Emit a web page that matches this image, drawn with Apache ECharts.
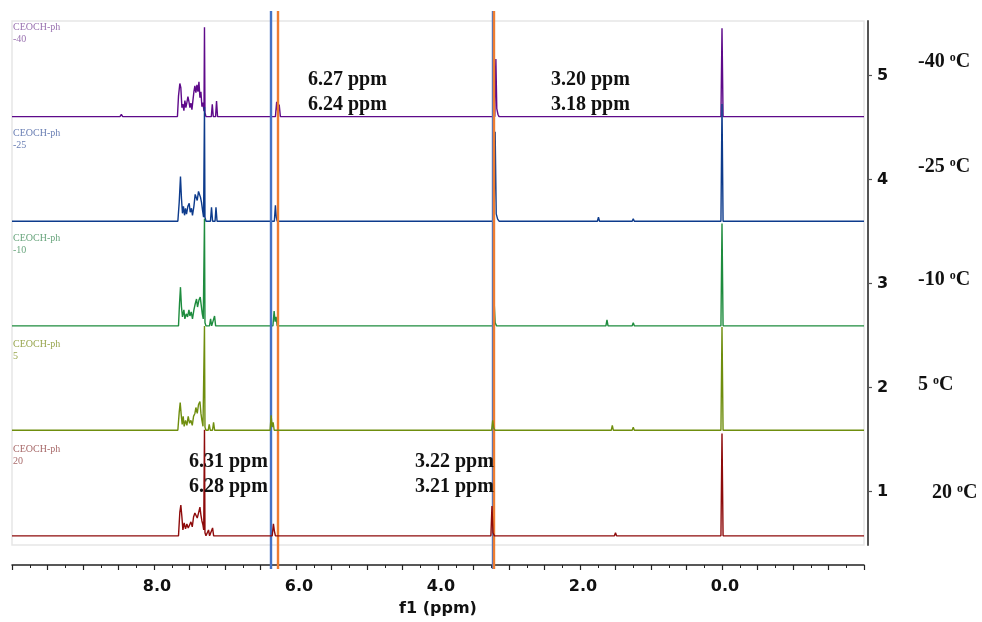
<!DOCTYPE html>
<html><head><meta charset="utf-8">
<script src="https://cdn.jsdelivr.net/npm/echarts@6/dist/echarts.min.js"></script>
<style>html,body{margin:0;padding:0;background:#fff}#c{width:982px;height:622px}</style>
</head><body><div id="c"></div>
<script>
// ---- data (ppm, intensity above each trace's baseline, in axis units) ----
const TEMPS = ['-40', '-25', '-10', '5', '20'];
const SAMPLE = 'CEOCH-ph';
const OFFSETS = [4.606, 3.60, 2.594, 1.59, 0.575];
const COLORS = ['#5e0a8a', '#0d3b8c', '#1e8c3e', '#6f8e0e', '#8e0b0b'];
const LABEL_COLORS = ['#9a72b0', '#6a7fb4', '#6aa67e', '#98a64e', '#a86a6a'];

const S_M40 = [
[10,0],[8.48,0],[8.46,0.02],[8.44,0],
[7.67,0],[7.655,0.197],[7.636,0.318],[7.622,0.277],[7.607,0.086],[7.593,0.12],[7.579,0.057],[7.565,0.153],[7.551,0.086],[7.537,0.134],[7.522,0.191],[7.508,0.143],[7.494,0.086],[7.48,0.13],[7.466,0.067],[7.452,0.153],[7.438,0.239],[7.424,0.296],[7.41,0.229],[7.395,0.305],[7.381,0.239],[7.367,0.334],[7.353,0.181],[7.339,0.239],[7.325,0.095],[7.311,0.134],[7.296,0.053],[7.289,0.859],[7.282,0.038],[7.268,0],
[7.193,0],[7.179,0.117],[7.165,0],[7.133,0],[7.119,0.149],[7.105,0],
[6.29,0],[6.272,0.143],[6.255,0.03],[6.237,0.115],[6.22,0],
[3.20,0],[3.185,0.553],[3.172,0.076],[3.155,0.02],[3.14,0],
[1.26,0],[1.243,0.014],[1.23,0],[0.88,0],[0.866,0.01],[0.85,0],
[0.015,0],[0.0,0.85],[-0.015,0],[-2,0]
];
const S_M25 = [
[10,0],[8.36,0],[8.35,0.012],[8.34,0],
[7.664,0],[7.645,0.181],[7.627,0.429],[7.613,0.219],[7.599,0.076],[7.585,0.143],[7.57,0.057],[7.556,0.124],[7.542,0.067],[7.523,0.143],[7.504,0.172],[7.49,0.086],[7.472,0.124],[7.458,0.057],[7.438,0.143],[7.42,0.258],[7.405,0.277],[7.391,0.2],[7.373,0.286],[7.359,0.305],[7.345,0.229],[7.331,0.181],[7.316,0.105],[7.302,0.038],[7.289,1.097],[7.282,0.038],[7.268,0],
[7.205,0],[7.19,0.134],[7.175,0],[7.14,0],[7.127,0.134],[7.112,0],
[6.305,0],[6.29,0.153],[6.278,0.04],[6.265,0],
[3.21,0],[3.195,0.859],[3.18,0.07],[3.16,0.02],[3.14,0],
[1.755,0],[1.74,0.038],[1.725,0],[1.265,0],[1.25,0.024],[1.235,0],[0.885,0],[0.87,0.019],[0.855,0],
[0.015,0],[0.0,1.126],[-0.015,0],[-2,0]
];
const S_M10 = [
[10,0],
[7.655,0],[7.641,0.21],[7.627,0.372],[7.613,0.181],[7.599,0.086],[7.579,0.153],[7.565,0.067],[7.546,0.115],[7.527,0.086],[7.508,0.153],[7.494,0.095],[7.476,0.134],[7.458,0.067],[7.438,0.153],[7.42,0.21],[7.401,0.258],[7.387,0.181],[7.367,0.248],[7.349,0.277],[7.335,0.2],[7.32,0.115],[7.306,0.067],[7.289,1.03],[7.282,0.029],[7.268,0],
[7.218,0],[7.203,0.067],[7.188,0],[7.162,0],[7.147,0.095],[7.132,0],
[6.325,0],[6.308,0.143],[6.294,0.04],[6.28,0.086],[6.265,0],
[3.225,0],[3.21,0.239],[3.195,0.03],[3.175,0],
[1.635,0],[1.62,0.057],[1.605,0],[1.265,0],[1.25,0.029],[1.235,0],
[0.015,0],[0.0,0.983],[-0.015,0],[-2,0]
];
const S_P5 = [
[10,0],
[7.664,0],[7.645,0.172],[7.631,0.267],[7.617,0.153],[7.603,0.057],[7.589,0.134],[7.575,0.038],[7.556,0.095],[7.537,0.048],[7.518,0.134],[7.499,0.067],[7.48,0.095],[7.461,0.048],[7.443,0.134],[7.424,0.162],[7.41,0.219],[7.391,0.162],[7.373,0.248],[7.353,0.277],[7.339,0.162],[7.325,0.095],[7.31,0.038],[7.289,1.002],[7.282,0.03],[7.268,0],
[7.237,0],[7.222,0.057],[7.207,0],[7.176,0],[7.161,0.076],[7.146,0],
[6.365,0],[6.35,0.143],[6.336,0.03],[6.322,0.076],[6.307,0],
[3.245,0],[3.23,0.095],[3.215,0.02],[3.195,0],
[1.56,0],[1.545,0.048],[1.53,0],[1.265,0],[1.25,0.029],[1.235,0],[0.885,0],[0.87,0.014],[0.855,0],
[0.015,0],[0.0,0.992],[-0.015,0],[-2,0]
];
const S_P20 = [
[10,0],
[7.655,0],[7.636,0.229],[7.622,0.296],[7.607,0.181],[7.593,0.057],[7.575,0.124],[7.556,0.067],[7.537,0.115],[7.518,0.076],[7.499,0.105],[7.48,0.134],[7.461,0.086],[7.443,0.181],[7.424,0.219],[7.405,0.229],[7.391,0.172],[7.373,0.219],[7.353,0.277],[7.339,0.2],[7.325,0.143],[7.311,0.105],[7.30,0.057],[7.289,1.021],[7.282,0.03],[7.268,0],
[7.247,0],[7.232,0.057],[7.217,0],[7.19,0],[7.175,0.076],[7.16,0],
[6.335,0],[6.318,0.115],[6.305,0.048],[6.29,0],
[3.255,0],[3.24,0.286],[3.225,0.03],[3.205,0],
[1.515,0],[1.50,0.029],[1.485,0],[1.265,0],[1.25,0.019],[1.235,0],[0.885,0],[0.87,0.01],[0.855,0],
[0.015,0],[0.0,0.983],[-0.015,0],[-2,0]
];
const SPECTRA = [S_M40, S_M25, S_M10, S_P5, S_P20];

const X_MIN = -2, X_MAX = 10;
const X_LABELS = [8, 6, 4, 2, 0];
const Y_TICKS = [1, 2, 3, 4, 5];
const REF_BLUE = [6.35, 3.234];
const REF_ORANGE = [6.257, 3.206];
const ANNOTS = [['6.27 ppm', '6.24 ppm'], ['3.20 ppm', '3.18 ppm'], ['6.31 ppm', '6.28 ppm'], ['3.22 ppm', '3.21 ppm']];

// ---- chart ----
const chart = echarts.init(document.getElementById('c'), null, {renderer: 'canvas'});
const series = SPECTRA.map((sp, i) => ({
  type: 'line', xAxisIndex: 0, yAxisIndex: 0,
  data: sp.map(p => [p[0], OFFSETS[i] + p[1]]),
  showSymbol: false, symbol: 'none', clip: true,
  lineStyle: {color: COLORS[i], width: 1.4}, z: 2 + i
}));
series.push({
  type: 'line', xAxisIndex: 1, yAxisIndex: 1, data: [], z: 10,
  markLine: {
    silent: true, symbol: ['none', 'none'], label: {show: false},
    lineStyle: {type: 'solid', width: 2.4},
    data: REF_BLUE.map(v => ({xAxis: v, lineStyle: {color: '#4472C4'}}))
      .concat(REF_ORANGE.map(v => ({xAxis: v, lineStyle: {color: '#ED7D31'}})))
  }
});

const serif = '"Liberation Serif", "Times New Roman", serif';
const annotPos = [[308, 67], [551, 67], [189, 449], [415, 449]];
const tempPos = [[918, 62], [918, 167], [918, 280], [918, 385], [932, 493]];
const graphics = [];
ANNOTS.forEach((a, i) => graphics.push({
  type: 'text', left: annotPos[i][0], top: annotPos[i][1], z: 20,
  style: {text: a.join('\n'), font: 'bold 20px ' + serif, lineHeight: 25, fill: '#111'}
}));
TEMPS.forEach((t, i) => {
  graphics.push({
    type: 'text', x: tempPos[i][0], y: tempPos[i][1], z: 20,
    style: {
      text: '{t|' + t + ' }{s|o}{t|C}', verticalAlign: 'middle',
      rich: {t: {font: 'bold 20px ' + serif, fill: '#111'}, s: {font: 'bold 12px ' + serif, fill: '#111', verticalAlign: 'top'}}
    }
  });
  const baseTop = [21, 127, 232, 338, 443][i];
  graphics.push({
    type: 'text', x: 13, y: baseTop, z: 20,
    style: {text: SAMPLE + '\n' + t, font: '10px ' + serif, lineHeight: 12, fill: LABEL_COLORS[i]}
  });
});

chart.setOption({
  animation: false,
  backgroundColor: '#fff',
  grid: [
    {left: 12, right: 118, top: 21, bottom: 73, show: true, borderColor: '#e6e6e6', borderWidth: 1.5, backgroundColor: 'transparent'},
    {left: 12, right: 118, top: 11, bottom: 53}
  ],
  xAxis: [{
    type: 'value', gridIndex: 0, inverse: true, min: X_MIN, max: X_MAX, interval: 0.5, offset: 20,
    axisLine: {show: true, onZero: false, lineStyle: {color: '#222', width: 1.5}},
    axisTick: {show: true, length: 5, lineStyle: {color: '#222', width: 1.2}},
    minorTick: {show: true, splitNumber: 2, length: 3, lineStyle: {color: '#222', width: 1}},
    splitLine: {show: false},
    axisLabel: {
      margin: 14, padding: [0, 0, 0, 6], fontSize: 16, fontWeight: 'bold', fontFamily: '"DejaVu Sans", Verdana, sans-serif', color: '#111',
      formatter: v => X_LABELS.some(l => Math.abs(l - v) < 1e-9) ? v.toFixed(1) : ''
    },
    name: 'f1 (ppm)', nameLocation: 'middle', nameGap: 36,
    nameTextStyle: {fontSize: 16, fontWeight: 'bold', fontFamily: '"DejaVu Sans", Verdana, sans-serif', color: '#111'}
  }, {
    type: 'value', gridIndex: 1, inverse: true, min: X_MIN, max: X_MAX, show: false
  }],
  yAxis: [{
    type: 'value', gridIndex: 0, position: 'right', offset: 4, min: 0.487, max: 5.525,
    axisLine: {show: true, onZero: false, lineStyle: {color: '#555', width: 2}},
    axisTick: {show: true, length: 4, customValues: Y_TICKS, lineStyle: {color: '#555', width: 1.2}},
    splitLine: {show: false},
    axisLabel: {customValues: Y_TICKS, margin: 9, fontSize: 16, fontWeight: 'bold', fontFamily: '"DejaVu Sans", Verdana, sans-serif', color: '#111'}
  }, {
    type: 'value', gridIndex: 1, min: 0, max: 1, show: false
  }],
  series: series,
  graphic: graphics
});
</script></body></html>
